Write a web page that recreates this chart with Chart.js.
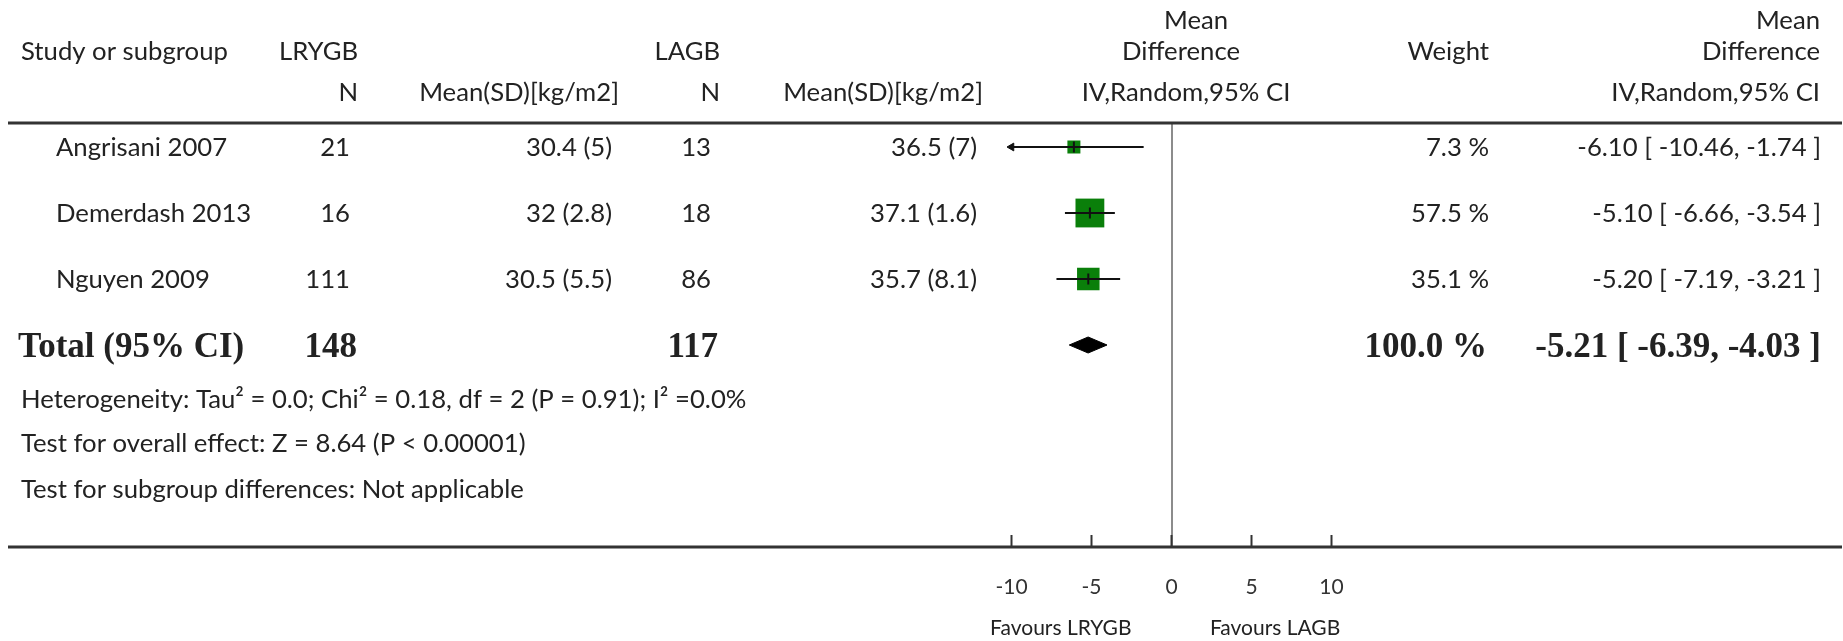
<!DOCTYPE html>
<html><head><meta charset="utf-8">
<script src="https://cdn.jsdelivr.net/npm/chart.js@4.4.0/dist/chart.umd.min.js"></script>
<style>html,body{margin:0;padding:0;background:#fff;overflow:hidden}canvas{display:block}</style>
</head><body>
<canvas id="c" width="1843" height="641"></canvas>
<script>
// ---- data ----
const studies = ['Angrisani 2007', 'Demerdash 2013', 'Nguyen 2009'];
const nLRYGB = [21, 16, 111];
const meanLRYGB = [30.4, 32, 30.5];
const sdLRYGB = [5, 2.8, 5.5];
const nLAGB = [13, 18, 86];
const meanLAGB = [36.5, 37.1, 35.7];
const sdLAGB = [7, 1.6, 8.1];
const weights = [7.3, 57.5, 35.1];
const md = [-6.10, -5.10, -5.20];
const ciLow = [-10.46, -6.66, -7.19];
const ciHigh = [-1.74, -3.54, -3.21];
const totalLabel = 'Total (95% CI)';
const totalN = [148, 117];
const totalWeight = 100.0;
const totalMD = -5.21;
const totalLow = -6.39;
const totalHigh = -4.03;
const xTicks = [-10, -5, 0, 5, 10];
const favours = ['Favours LRYGB', 'Favours LAGB'];
const footnotes = [
  'Heterogeneity: Tau\u00B2 = 0.0; Chi\u00B2 = 0.18, df = 2 (P = 0.91); I\u00B2 =0.0%',
  'Test for overall effect: Z = 8.64 (P < 0.00001)',
  'Test for subgroup differences: Not applicable'
];

// ---- chart ----
const X_MIN = -10, X_MAX = 10;
const totalRow = studies.length;
const diamondHalf = 8 / 66;
const fmt2 = v => v.toFixed(2);
const ciText = (m, l, h) => `${fmt2(m)} [ ${fmt2(l)}, ${fmt2(h)} ]`;

const datasets = [];
// centre marks of each study
datasets.push({
  data: md.map((m, i) => ({x: m, y: i})),
  showLine: false, pointStyle: 'line', pointRotation: 90, pointRadius: 5.5,
  pointBorderColor: '#111', pointBorderWidth: 2, clip: false
});
// confidence interval lines
studies.forEach((s, i) => {
  const lo = Math.max(ciLow[i], X_MIN), hi = Math.min(ciHigh[i], X_MAX);
  datasets.push({
    data: [{x: lo, y: i}, {x: hi, y: i}],
    showLine: true, borderColor: '#111', borderWidth: 2,
    pointStyle: 'triangle', pointRotation: [270, 90],
    pointRadius: [ciLow[i] < X_MIN ? 4.5 : 0, ciHigh[i] > X_MAX ? 4.5 : 0],
    pointBackgroundColor: '#111', pointBorderColor: '#111', pointBorderWidth: 1,
    clip: false
  });
});
// weight squares
datasets.push({
  data: md.map((m, i) => ({x: m, y: i})),
  showLine: false, pointStyle: 'rect',
  pointRadius: weights.map(w => Math.max(13, 3.8 * Math.sqrt(w)) / Math.SQRT2),
  pointBackgroundColor: '#0a7f0a', pointBorderWidth: 0, clip: false
});
// pooled diamond (upper and lower halves)
[-1, 1].forEach(sgn => {
  datasets.push({
    data: [{x: totalLow, y: totalRow}, {x: totalMD, y: totalRow + sgn * diamondHalf}, {x: totalHigh, y: totalRow}],
    showLine: true, fill: {value: totalRow}, backgroundColor: '#000',
    borderColor: '#000', borderWidth: 1, pointRadius: 0, tension: 0, clip: false
  });
});

const tablePlugin = {
  id: 'table',
  afterDraw(chart) {
    const ctx = chart.ctx, xs = chart.scales.x, ys = chart.scales.y, area = chart.chartArea;
    ctx.save();
    const sans = '25.7px Lato';
    const bold = 'bold 35px "Liberation Serif"';
    // horizontal rules
    ctx.strokeStyle = '#333';
    ctx.lineWidth = 3;
    [area.top, area.bottom].forEach(y => {
      ctx.beginPath(); ctx.moveTo(8, y); ctx.lineTo(1842, y); ctx.stroke();
    });
    // tick marks (upwards)
    ctx.lineWidth = 2;
    xs.ticks.forEach(tk => {
      const px = xs.getPixelForValue(tk.value);
      ctx.beginPath(); ctx.moveTo(px, area.bottom); ctx.lineTo(px, area.bottom - 12); ctx.stroke();
    });
    ctx.fillStyle = '#222';
    ctx.textBaseline = 'middle';
    const t = (s, x, y, align, font) => {
      ctx.font = font || sans; ctx.textAlign = align || 'left'; ctx.fillText(s, x, y);
    };
    // headers
    t('Study or subgroup', 21, 52);
    t('LRYGB', 358, 52, 'right');
    t('N', 358, 93, 'right');
    t('Mean(SD)[kg/m2]', 619, 93, 'right');
    t('LAGB', 720, 52, 'right');
    t('N', 720, 93, 'right');
    t('Mean(SD)[kg/m2]', 983, 93, 'right');
    t('Mean', 1196, 21, 'center');
    t('Difference', 1181, 52, 'center');
    t('IV,Random,95% CI', 1186, 93, 'center');
    t('Weight', 1489, 52, 'right');
    t('Mean', 1820, 21, 'right');
    t('Difference', 1820, 52, 'right');
    t('IV,Random,95% CI', 1820, 93, 'right');
    // study rows
    studies.forEach((s, i) => {
      const y = ys.getPixelForValue(i) + 1;
      t(s, 56, y);
      t(String(nLRYGB[i]), 350, y, 'right');
      t(`${meanLRYGB[i]} (${sdLRYGB[i]})`, 612, y, 'right');
      t(String(nLAGB[i]), 711, y, 'right');
      t(`${meanLAGB[i]} (${sdLAGB[i]})`, 977, y, 'right');
      t(weights[i].toFixed(1) + ' %', 1489, y, 'right');
      t(ciText(md[i], ciLow[i], ciHigh[i]), 1821, y, 'right');
    });
    // total row
    const yt = ys.getPixelForValue(totalRow) + 3;
    t(totalLabel, 18, yt, 'left', bold);
    t(String(totalN[0]), 357, yt, 'right', bold);
    t(String(totalN[1]), 718, yt, 'right', bold);
    t(totalWeight.toFixed(1) + ' %', 1487, yt, 'right', bold);
    t(ciText(totalMD, totalLow, totalHigh), 1821, yt, 'right', bold);
    // footnotes
    [400, 444, 490].forEach((y, k) => t(footnotes[k], 21, y));
    // favours labels
    t(favours[0], xs.getPixelForValue(-2.5), 628, 'right', '21px Lato');
    t(favours[1], xs.getPixelForValue(2.4), 628, 'left', '21px Lato');
    ctx.restore();
  }
};

new Chart(document.getElementById('c'), {
  type: 'line',
  data: {datasets},
  options: {
    responsive: false, animation: false, events: [],
    layout: {padding: {left: 1011.5, right: 511.5, top: 123, bottom: 0}},
    plugins: {legend: {display: false}, tooltip: {enabled: false}},
    scales: {
      x: {
        type: 'linear', min: X_MIN, max: X_MAX,
        afterBuildTicks: s => { s.ticks = xTicks.map(v => ({value: v})); },
        afterFit: s => { s.height = 94; },
        border: {display: false},
        grid: {
          drawTicks: false, lineWidth: 2,
          color: c => (c.tick && c.tick.value === 0) ? '#8c8c8c' : 'rgba(0,0,0,0)'
        },
        ticks: {
          padding: 27.4, color: '#333', font: {family: 'Lato', size: 21},
          callback: v => String(v)
        }
      },
      y: {type: 'linear', reverse: true, min: -24 / 66, max: 400 / 66, display: false}
    }
  },
  plugins: [tablePlugin]
});
</script>
</body></html>
